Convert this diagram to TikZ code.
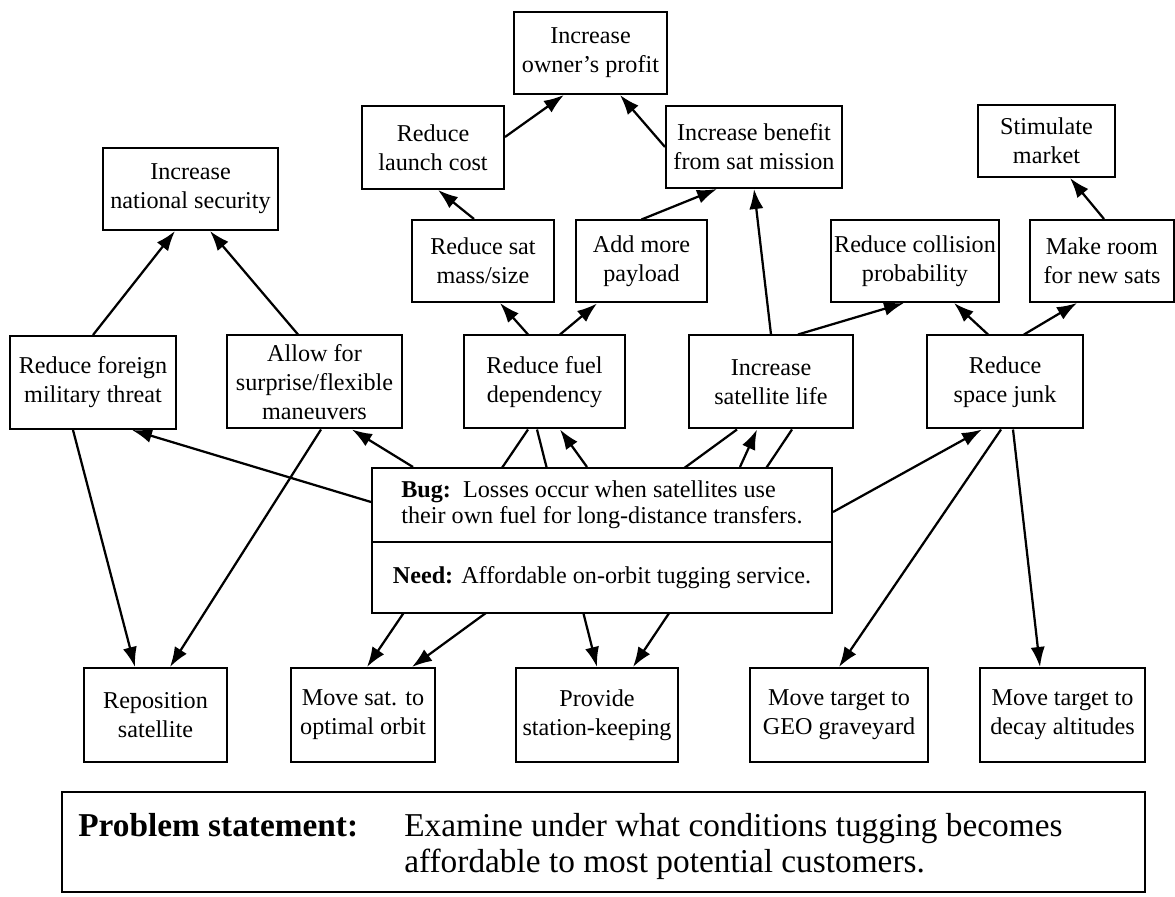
\documentclass[tikz,border=0pt]{standalone}
\usepackage{fontspec}
\setmainfont{Liberation Serif}
\usetikzlibrary{arrows.meta}
\pgfdeclarelayer{bg}
\pgfsetlayers{bg,main}
\begin{document}
\begin{tikzpicture}[x=0.6pt, y=-0.6pt, >={Latex[length=12pt,width=8.5pt]},
        box/.style 2 args={draw, line width=1.2pt, fill=white, align=center, inner sep=2pt,
                minimum width=#1, minimum height=#2, font=\fontsize{14.5}{17.5}\selectfont},
        link/.style={->, line width=1.35pt}]
    \useasboundingbox (0,0) rectangle (1175,897);
    % Goals
    \node[box={91.8pt}{49.2pt}] (owner) at (590.5,53) {Increase\\owner's profit};
    \node[box={85.2pt}{49.8pt}] (launch) at (433,147.5) {Reduce\\launch cost};
    \node[box={105.6pt}{49.2pt}] (benefit) at (754,147) {Increase benefit\\from sat mission};
    \node[box={82.2pt}{43.2pt}] (market) at (1046.5,141) {Stimulate\\market};
    \node[box={105pt}{49.2pt}] (security) at (190.5,189) {Increase\\national security};
    \node[box={85.2pt}{49.2pt}] (mass) at (483,261) {Reduce sat\\mass/size};
    \node[box={78.6pt}{49.2pt}] (payload) at (641.5,261.5) {Add more\\payload};
    \node[box={100.8pt}{49.2pt}] (collision) at (915,261) {Reduce collision\\probability};
    \node[box={86.4pt}{49.2pt}] (room) at (1102,261) {Make room\\for new sats};
    \node[box={99.6pt}{55.8pt}] (foreign) at (93,382.5) {Reduce foreign\\military threat};
    \node[box={105pt}{55.8pt}] (allow) at (314.5,382) {Allow for\\surprise/flexible\\maneuvers};
    \node[box={96.6pt}{55.8pt}] (fuel) at (544.5,382) {Reduce fuel\\dependency};
    \node[box={98.4pt}{55.8pt}] (life) at (771,382) {Increase\\satellite life};
    \node[box={93.6pt}{55.8pt}] (junk) at (1005,382) {Reduce\\space junk};
    % Bug and need
    \node[box={276pt}{44.4pt}, align=left, font=\fontsize{14.5}{15.6}\selectfont] (bug) at (602,505)
        {\textbf{Bug:}\ \ Losses occur when satellites use\\their own fuel for long-distance transfers.};
    \node[box={276pt}{42.6pt}, align=left] (need) at (602,577.5)
        {\textbf{Need:} Affordable on-orbit tugging service.};
    % Tug missions
    \node[box={85.8pt}{56.4pt}] (reposition) at (155.5,715) {Reposition\\satellite};
    \node[box={86.4pt}{56.4pt}] (orbit) at (363,715) {Move sat. to\\optimal orbit};
    \node[box={97.2pt}{56.4pt}] (station) at (597,715) {Provide\\station-keeping};
    \node[box={106.8pt}{56.4pt}] (geo) at (839,715) {Move target to\\GEO graveyard};
    \node[box={99pt}{56.4pt}] (decay) at (1062.5,715) {Move target to\\decay altitudes};
    % Problem statement
    \node[draw, line width=1.2pt, minimum width=649.8pt, minimum height=60pt] (problem) at (603.5,842) {};
    \node[anchor=north west, inner sep=0pt, font=\fontsize{20}{22}\selectfont] (statement)
        at ([xshift=10.2pt,yshift=-11.4pt]problem.north west)
        {\begin{tabular}{@{}p{195.6pt}@{}l@{}}
                \textbf{Problem statement:} & Examine under what conditions tugging becomes \\
                                            & affordable to most potential customers.
            \end{tabular}};
    % Goal links
    \draw[link] ([yshift=6.3pt]launch.east) -- ([xshift=-16pt]owner.south);
    \draw[link] (benefit.west) -- ([xshift=17.7pt]owner.south);
    \draw[link] ([xshift=-5.4pt]mass.north) -- ([xshift=3pt]launch.south);
    \draw[link] (payload.north) -- ([xshift=-22.2pt]benefit.south);
    \draw[link] (life.north) -- (benefit.south);
    \draw[link] ([xshift=16.2pt]life.north) -- ([xshift=-6.6pt]collision.south);
    \draw[link] ([xshift=-10.2pt]junk.north) -- ([xshift=23.4pt]collision.south);
    \draw[link] ([xshift=11.4pt]junk.north) -- ([xshift=-15pt]room.south);
    \draw[link] ([xshift=1.2pt]room.north) -- ([xshift=14.1pt]market.south);
    \draw[link] ([xshift=-9.9pt]fuel.north) -- ([xshift=10.2pt]mass.south);
    \draw[link] ([xshift=9.3pt]fuel.north) -- ([xshift=-26.7pt]payload.south);
    \draw[link] (foreign.north) -- ([xshift=-9.3pt]security.south);
    \draw[link] ([xshift=-9.9pt]allow.north) -- ([xshift=11.7pt]security.south);
    % From the bug
    \draw[link] ([yshift=1.8pt]bug.west) -- ([xshift=23.4pt]foreign.south);
    \draw[link] ([xshift=-113.4pt]bug.north) -- ([xshift=22.5pt]allow.south);
    \draw[link] ([xshift=-9pt]bug.north) -- ([xshift=9.3pt]fuel.south);
    \draw[link] ([xshift=82.8pt]bug.north) -- ([xshift=-8.4pt]life.south);
    \draw[link] ([yshift=-4.2pt]bug.east) -- ([xshift=-13.8pt]junk.south);
    % Down to the tug missions
    \draw[link] ([xshift=-12pt]foreign.south) -- ([xshift=-12.3pt]reposition.north);
    \draw[link] ([xshift=3.9pt]allow.south) -- ([xshift=8.7pt]reposition.north);
    \begin{pgfonlayer}{bg}
        \draw[link] ([xshift=-9.9pt]fuel.south) -- ([xshift=2.4pt]orbit.north);
        \draw[link] ([xshift=-4.5pt]fuel.south) -- (station.north);
        \draw[link] ([xshift=-20.4pt]life.south) -- ([xshift=29.4pt]orbit.north);
        \draw[link] ([xshift=12.6pt]life.south) -- ([xshift=21.6pt]station.north);
    \end{pgfonlayer}
    \draw[link] ([xshift=-2.4pt]junk.south) -- (geo.north);
    \draw[link] ([xshift=4.8pt]junk.south) -- ([xshift=-13.5pt]decay.north);
\end{tikzpicture}
\end{document}
